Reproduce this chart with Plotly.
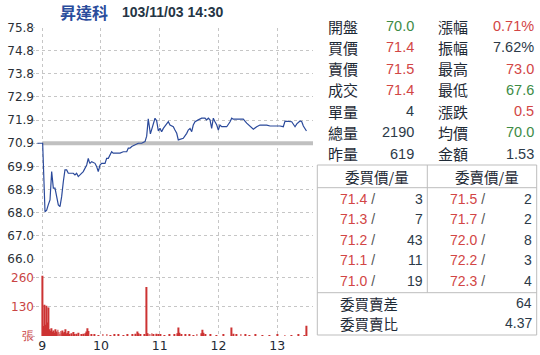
import plotly.graph_objects as go

W, H = 540, 355


def px_x(x):
    return x / W


def px_y(y):
    return 1 - y / H


# ---------------- data ----------------
stock_name = "昇達科"
timestamp = "103/11/03 14:30"
prev_close = 70.9

# minutes after 09:00 and traded price
price_minutes = [-5, 0.4, 2.8, 4.5, 6.1, 7.9, 9.6, 11.3, 13, 14.7, 16.4, 18.1, 19.8, 21.5, 23.2,
                 24.9, 26.6, 28.3, 31.7, 33.4, 35.1, 36.8, 38.5, 41.9, 45.4, 47, 48, 48.8, 50.5,
                 53.9, 55.6, 57.2, 59, 60.7, 64.1, 65.8, 67.5, 69.2, 70.9, 72.5, 76, 79.4, 82.8,
                 86.3, 87.9, 89.6, 91.4, 94.7, 98.1, 101.6, 105, 106.7, 108.3, 110.5, 113.5,
                 115.2, 116.9, 118.6, 120.3, 122, 123.7, 127.1, 128.8, 130.5, 133.9, 135.6,
                 137.4, 139, 140.8, 144.1, 147.6, 149.2, 151, 152.7, 154.3, 156.1, 159.4, 162.9,
                 166.3, 168, 169.7, 171.4, 173.1, 174.8, 176.5, 178.3, 179.9, 181.6, 183.4, 185,
                 188.5, 191.9, 193.6, 195.2, 205.4, 208.9, 212.3, 215.7, 219.1, 222.5, 229.4,
                 232.8, 243, 246.3, 248.1, 253.2, 254.9, 258.3, 260.1, 263.4, 265.2, 266.8, 270]
prices = [70.9, 70.9, 68.0, 68.07, 68.29, 68.5, 69.7, 69.0, 69.0, 68.64, 68.29, 68.22, 68.64,
          69.27, 69.77, 69.77, 69.63, 69.63, 69.63, 69.56, 69.63, 69.49, 69.56, 69.7, 69.98,
          70.26, 70.12, 70.05, 70.12, 70.05, 69.91, 69.7, 69.98, 70.05, 70.05, 70.26, 70.26,
          70.4, 70.54, 70.48, 70.48, 70.48, 70.54, 70.54, 70.69, 70.69, 70.76, 70.83, 70.9,
          70.9, 70.97, 71.2, 71.93, 71.3, 71.75, 71.96, 71.85, 71.42, 71.53, 71.39, 71.53,
          71.75, 71.81, 71.67, 71.6, 71.46, 71.32, 71.04, 71.07, 71.11, 71.32, 71.46, 71.53,
          71.39, 71.67, 71.81, 71.89, 71.96, 71.96, 71.89, 71.96, 71.89, 71.53, 71.96, 71.81,
          71.67, 71.46, 71.67, 71.6, 71.6, 71.6, 71.81, 71.96, 71.92, 71.92, 71.75, 71.6,
          71.49, 71.6, 71.67, 71.67, 71.63, 71.63, 71.6, 71.84, 71.84, 71.81, 71.6, 71.72,
          71.84, 71.81, 71.63, 71.42]

vol_minutes = [0, 1, 2, 3, 4, 5, 6, 7, 8, 9, 10, 11, 12, 13, 14, 15, 16, 17, 18, 19, 20, 21, 22,
               23, 24, 25, 26, 27, 28, 30, 32, 33, 35, 37, 40, 42, 44, 45, 46, 47, 50, 53, 57,
               62, 66, 70, 74, 78, 83, 87, 92, 95, 97, 98, 100, 104, 106, 107, 108, 110, 112,
               114, 117, 119, 121, 125, 130, 135, 138, 139, 140, 142, 146, 150, 154, 158, 163,
               164, 165, 167, 172, 178, 185, 193, 195, 198, 203, 208, 212, 218, 225, 232, 240,
               248, 255, 262, 268, 270]
volumes = [270, 45, 140, 50, 135, 60, 128, 30, 22, 35, 18, 25, 15, 30, 20, 12, 28, 18, 10, 22,
           15, 25, 12, 18, 30, 10, 15, 22, 8, 12, 18, 8, 10, 15, 6, 10, 12, 20, 35, 22, 8, 5, 4,
           6, 5, 4, 6, 5, 4, 8, 6, 10, 20, 12, 6, 8, 220, 12, 10, 8, 12, 6, 10, 8, 5, 4, 5, 6,
           12, 38, 15, 8, 5, 6, 4, 5, 12, 28, 15, 6, 5, 4, 5, 38, 10, 6, 5, 6, 4, 5, 3, 4, 5, 4,
           3, 5, 4, 46]

price_tickvals = [66.0, 66.98, 67.96, 68.94, 69.92, 70.9, 71.88, 72.86, 73.84, 74.82, 75.8]
price_ticktext = ["66.0", "67.0", "68.0", "68.9", "69.9", "70.9", "71.9", "72.9", "73.8", "74.8", "75.8"]
vol_tickvals = [0, 130, 260]
vol_ticktext = ["張", "130", "260"]
hour_ticks = [9, 10, 11, 12, 13]
hour_labels = ["9", "10", "11", "12", "13"]
x_start, x_end = 8.9, 13.611

GREEN = "#3d8b46"
RED = "#d24545"
DARK = "#2c3a48"
LABEL = "#1e2a36"

quote_left_labels = ["開盤", "買價", "賣價", "成交", "單量", "總量", "昨量"]
quote_left_values = ["70.0", "71.4", "71.5", "71.4", "4", "2190", "619"]
quote_left_colors = [GREEN, RED, RED, RED, DARK, DARK, DARK]
quote_right_labels = ["漲幅", "振幅", "最高", "最低", "漲跌", "均價", "金額"]
quote_right_values = ["0.71%", "7.62%", "73.0", "67.6", "0.5", "70.0", "1.53"]
quote_right_colors = [RED, DARK, RED, GREEN, RED, GREEN, DARK]

book_headers = ["委買價/量", "委賣價/量"]
bid_prices = ["71.4", "71.3", "71.2", "71.1", "71.0"]
bid_sizes = [3, 7, 43, 11, 19]
ask_prices = ["71.5", "71.7", "72.0", "72.2", "72.3"]
ask_sizes = [2, 2, 8, 3, 4]
summary_labels = ["委買賣差", "委買賣比"]
summary_values = ["64", "4.37"]

# ---------------- figure ----------------
price_hours = [9 + m / 60 for m in price_minutes]
vol_hours = [9 + m / 60 for m in vol_minutes]

fig = go.Figure()
fig.add_trace(go.Scatter(x=price_hours, y=prices, mode="lines",
                         line=dict(color="#2b4a9b", width=1.2),
                         xaxis="x", yaxis="y", hoverinfo="skip"))
fig.add_trace(go.Bar(x=vol_hours, y=volumes, width=0.9 / 60,
                     marker=dict(color="#cc3333", line=dict(width=0)),
                     xaxis="x2", yaxis="y2", hoverinfo="skip"))

GRID = "#c6c6c6"
TICKFONT = dict(family="DejaVu Sans", size=12, color="#2a2f36")
xdom = [px_x(36.4), px_x(313)]

fig.update_layout(
    width=W, height=H, margin=dict(l=0, r=0, t=0, b=0, autoexpand=False),
    paper_bgcolor="white", plot_bgcolor="white", showlegend=False,
    xaxis=dict(domain=xdom, range=[x_start, x_end], tickvals=hour_ticks,
               showticklabels=False, showgrid=True, gridcolor=GRID, griddash="3px,3px",
               zeroline=False, anchor="y", ticks="", automargin=False),
    xaxis2=dict(domain=xdom, range=[x_start, x_end], tickvals=hour_ticks, ticktext=hour_labels,
                showgrid=True, gridcolor=GRID, griddash="3px,3px", zeroline=False,
                anchor="y2", ticks="", automargin=False,
                tickfont=dict(family="DejaVu Sans", size=12.5, color="#1e2a36")),
    yaxis=dict(domain=[px_y(259), px_y(27.5)], range=[66.0, 75.8], tickvals=price_tickvals,
               ticktext=price_ticktext, showgrid=True, gridcolor=GRID, griddash="3px,3px",
               zeroline=False, ticks="outside", ticklen=2, tickcolor=GRID,
               ticklabelstandoff=-3,
               tickfont=TICKFONT, anchor="x", automargin=False),
    yaxis2=dict(domain=[px_y(336), px_y(259)], range=[0, 345], tickvals=vol_tickvals,
                ticktext=vol_ticktext, showgrid=True, gridcolor=GRID, griddash="3px,3px",
                zeroline=False, ticks="outside", ticklen=2, tickcolor=GRID, automargin=False,
                ticklabelstandoff=-3,
                tickfont=dict(family="DejaVu Sans", size=12, color="#c94444"), anchor="x2"),
)

shapes = [dict(type="line", xref="x", yref="y", x0=9, x1=x_end, y0=prev_close, y1=prev_close,
               line=dict(color="#c0c0c0", width=4), layer="between")]

BORDER = "#bdbdbd"
bx0, bx1, by0, by1 = 317.3, 536.7, 165, 335
shapes.append(dict(type="rect", xref="paper", yref="paper", x0=px_x(bx0), x1=px_x(bx1),
                   y0=px_y(by1), y1=px_y(by0), line=dict(color=BORDER, width=1)))
shapes.append(dict(type="line", xref="paper", yref="paper", x0=px_x(bx0), x1=px_x(bx1),
                   y0=px_y(187.7), y1=px_y(187.7), line=dict(color=BORDER, width=1)))
shapes.append(dict(type="line", xref="paper", yref="paper", x0=px_x(bx0), x1=px_x(bx1),
                   y0=px_y(292.7), y1=px_y(292.7), line=dict(color=BORDER, width=1)))
shapes.append(dict(type="line", xref="paper", yref="paper", x0=px_x(427.3), x1=px_x(427.3),
                   y0=px_y(292.7), y1=px_y(by0), line=dict(color=BORDER, width=1)))
fig.update_layout(shapes=shapes)

CJK = "Noto Sans CJK TC"
NUM = "Liberation Sans"
ann = []


def add_text(x, y, text, anchor, family, size, color, bold=False):
    t = f"<b>{text}</b>" if bold else text
    ann.append(dict(xref="paper", yref="paper", x=px_x(x), y=px_y(y), text=t,
                    xanchor=anchor, yanchor="middle", showarrow=False,
                    font=dict(family=family, size=size, color=color), borderpad=0))


# title
add_text(59, 12, stock_name, "left", CJK, 16, "#2a4d9c", bold=True)
add_text(121, 12, timestamp, "left", NUM, 14, "#253545", bold=True)

# quote table
row_y0, row_dy = 26.2, 21.25
for i in range(len(quote_left_labels)):
    y = row_y0 + i * row_dy
    add_text(327, y, quote_left_labels[i], "left", CJK, 15, LABEL)
    add_text(414.5, y, quote_left_values[i], "right", NUM, 14.5, quote_left_colors[i])
    add_text(437, y, quote_right_labels[i], "left", CJK, 15, LABEL)
    add_text(534.5, y, quote_right_values[i], "right", NUM, 14.5, quote_right_colors[i])

# order book
add_text(376.5, 176.5, book_headers[0], "center", CJK, 14.5, LABEL)
add_text(486.5, 176.5, book_headers[1], "center", CJK, 14.5, LABEL)
book_y0, book_dy = 198.8, 20.5
for i in range(len(bid_prices)):
    y = book_y0 + i * book_dy
    add_text(339, y, f"<span style='color:{RED}'>{bid_prices[i]}</span> /", "left", NUM, 14, "#555")
    add_text(423.5, y, str(bid_sizes[i]), "right", NUM, 14, DARK)
    add_text(449, y, f"<span style='color:{RED}'>{ask_prices[i]}</span> /", "left", NUM, 14, "#555")
    add_text(533, y, str(ask_sizes[i]), "right", NUM, 14, DARK)

for i, (lab, val) in enumerate(zip(summary_labels, summary_values)):
    y = 303 + i * 20.3
    add_text(339, y, lab, "left", CJK, 14.5, LABEL)
    add_text(533, y, val, "right", NUM, 14, DARK)

fig.update_layout(annotations=ann)

fig.write_html("out.html")
